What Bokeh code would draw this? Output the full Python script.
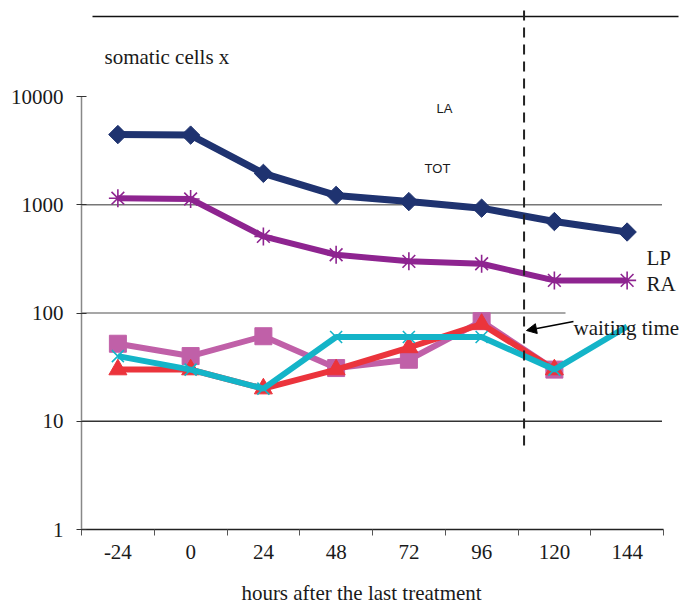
import numpy as np
from bokeh.plotting import figure
from bokeh.layouts import column
from bokeh.models import (Range1d, FixedTicker, PrintfTickFormatter, Label,
                          Arrow, NormalHead)
from bokeh.embed import file_html
from bokeh.resources import INLINE

# ---------------- data ----------------
hours = [-24, 0, 24, 48, 72, 96, 120, 144]
tot = [4450, 4400, 1950, 1220, 1070, 930, 700, 560]        # navy diamonds
la = [1150, 1130, 510, 345, 300, 285, 200, 200]            # purple asterisks
lp = [52, 40, 61, 31, 37, 84, 30]                          # pink squares
ra = [30, 30, 20, 30, 48, 79, 30]                          # red triangles
cyan = [40, 30, 20, 60, 60, 60, 30, 75]                    # cyan crosses
y_ticks = [1, 10, 100, 1000, 10000]
grid_vals = [10, 100, 1000]
wait_h = 110
x_title = "hours after the last treatment"

# ---------------- geometry helpers (screen px -> data) ----------------
def hx(px):
    return -36 + (px - 81) / 72.75 * 24

def vy(py):
    return 10 ** ((529 - py) / 108.25)

SERIF = "Liberation Serif"
SANS = "Liberation Sans"

MAIN_H = 570
p = figure(width=682, height=MAIN_H, output_backend="svg", toolbar_location=None,
           y_axis_type="log",
           x_range=Range1d(-36, hx(682)), y_range=Range1d(1, vy(0)),
           min_border_left=81, min_border_right=0, min_border_top=0,
           min_border_bottom=MAIN_H - 529)
p.outline_line_color = None
p.xgrid.visible = False
p.ygrid.visible = False
p.background_fill_color = "white"

# x axis
xa = p.xaxis[0]
bounds_x = [h - 12 for h in hours] + [hours[-1] + 12]
xa.ticker = FixedTicker(ticks=hours, minor_ticks=bounds_x)
xa.bounds = (bounds_x[0], bounds_x[-1])
xa.formatter = PrintfTickFormatter(format="%d")
xa.major_tick_line_color = None
xa.major_tick_out = 6
xa.major_tick_in = 0
xa.minor_tick_line_color = "#555555"
xa.minor_tick_out = 6
xa.minor_tick_in = 0
xa.axis_line_color = "#222222"
xa.axis_line_width = 1.5
xa.major_label_standoff = 9
xa.major_label_text_font = SERIF
xa.major_label_text_font_size = "21px"
xa.major_label_text_color = "#1a1a1a"

# y axis
ya = p.yaxis[0]
ya.ticker = FixedTicker(ticks=y_ticks, minor_ticks=[])
ya.bounds = (y_ticks[0], y_ticks[-1])
ya.formatter = PrintfTickFormatter(format="%d")
ya.major_tick_in = 5
ya.major_tick_out = 5
ya.major_tick_line_color = "#333333"
ya.minor_tick_line_color = None
ya.axis_line_color = "#888888"
ya.axis_line_width = 1.5
ya.major_label_standoff = 13
ya.major_label_text_font = SERIF
ya.major_label_text_font_size = "21px"
ya.major_label_text_color = "#1a1a1a"

# grid lines
p.segment(x0=[bounds_x[0]] * 3, y0=grid_vals,
          x1=[bounds_x[-1] - 0.5, hx(565), bounds_x[-1] - 0.5], y1=grid_vals,
          line_color=["#333333", "#8a8a8a", "#777777"], line_width=1.3)

# top rule
p.line(x=[hx(92), hx(678)], y=[vy(16), vy(16)], line_color="#111111", line_width=1.5)

# series
NAVY = "#1F3370"
PURPLE = "#8E2490"
PINK = "#C060A8"
RED = "#EB343C"
CYAN = "#14B4C8"

p.line(hours, tot, line_color=NAVY, line_width=7)
p.scatter(hours, tot, marker="square", angle=np.pi / 4, size=13,
          fill_color=NAVY, line_color=NAVY)

p.line(hours, la, line_color=PURPLE, line_width=6)
p.scatter(hours, la, marker="asterisk", size=18, line_color=PURPLE, line_width=1.6)

p.line(hours[:len(lp)], lp, line_color=PINK, line_width=6)
p.scatter(hours[:len(lp)], lp, marker="square", size=17, fill_color=PINK, line_color=PINK)

p.line(hours[:len(ra)], ra, line_color=RED, line_width=6)
p.scatter(hours[:len(ra)], ra, marker="triangle", size=18, fill_color=RED, line_color=RED)

p.line(hours, cyan, line_color=CYAN, line_width=6)
p.scatter(hours[:7], cyan[:7], marker="x", size=17, line_color=CYAN, line_width=1.6)

# waiting time dashed line
p.line(x=[wait_h, wait_h], y=[vy(10), vy(449)], line_color="#222222",
       line_width=2, line_dash="10 7")

# arrow
p.add_layout(Arrow(end=NormalHead(size=10, fill_color="black", line_color="black"),
                   x_start=hx(573), y_start=vy(321), x_end=hx(526), y_end=vy(330),
                   line_color="black", line_width=1.5))

def lab(fig, text, x, y, font=SERIF, size="21px", align="left"):
    fig.add_layout(Label(x=x, y=y, text=text, text_font=font,
                         text_font_size=size, text_align=align,
                         text_baseline="middle", text_color="#1a1a1a"))

lab(p, "somatic cells x", hx(104), vy(56))
lab(p, "LA", hx(444), vy(108), font=SANS, size="13px", align="center")
lab(p, "TOT", hx(437), vy(168), font=SANS, size="13px", align="center")
lab(p, "LP", hx(646), vy(257))
lab(p, "RA", hx(646), vy(283))
lab(p, "waiting time", hx(573), vy(327))

# x-axis title strip (below the main plot); its frame is aligned with the main frame
FOOT_H = 604 - MAIN_H
p2 = figure(width=682, height=FOOT_H, output_backend="svg", toolbar_location=None,
            x_range=Range1d(81, 682), y_range=Range1d(0, FOOT_H),
            x_axis_location=None, y_axis_location=None,
            min_border=0)
p2.grid.visible = False
p2.outline_line_color = None
lab(p2, x_title, 361, FOOT_H - (592 - MAIN_H), align="center")

layout = column(p, p2, spacing=0)
open("out.html", "w").write(file_html(layout, INLINE))
